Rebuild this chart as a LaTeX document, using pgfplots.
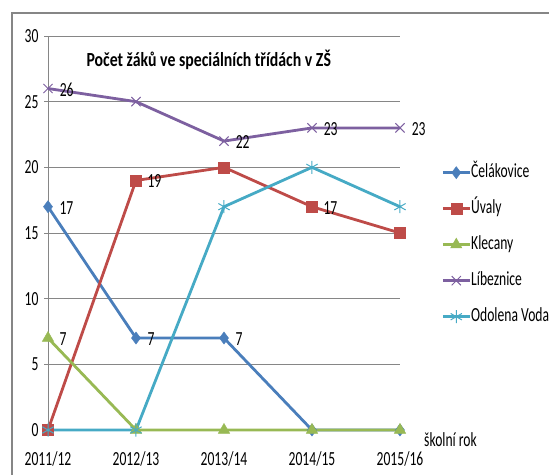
\documentclass[border=0pt]{standalone}
\usepackage{fontspec}
\setmainfont{Carlito}[FakeStretch=0.68]
\newfontfamily\titlefont{Carlito}[FakeStretch=0.79]
\usepackage{pgfplots}
\pgfplotsset{compat=1.18}
\definecolor{cBlue}{RGB}{74,126,187}
\definecolor{cRed}{RGB}{190,75,72}
\definecolor{cGreen}{RGB}{152,185,84}
\definecolor{cPurple}{RGB}{125,96,160}
\definecolor{cCyan}{RGB}{70,170,197}
\definecolor{cGrid}{RGB}{134,134,134}
\newcommand{\f}{\fontsize{20bp}{22bp}\selectfont}
\begin{document}
\begin{tikzpicture}
\useasboundingbox (0,0) rectangle (549bp,475bp);
\draw[cGrid, line width=1.2bp] (12bp,0) -- (12bp,462bp) -- (549bp,462bp);
\begin{axis}[
  scale only axis, width=352bp, height=394bp,
  at={(48bp,45bp)}, anchor=south west,
  xmin=0, xmax=4, ymin=0, ymax=30,
  clip=false,
  axis x line*=bottom, axis y line*=left,
  axis line style={draw=cGrid, line width=0.8bp, -},
  xtick={0,1,2,3,4},
  xticklabels={2011/12,2012/13,2013/14,2014/15,2015/16},
  xtick style={draw=none},
  ytick={0,5,10,15,20,25,30},
  ytick style={draw=cGrid, line width=0.8bp},
  tick align=outside, major tick length=4bp,
  ymajorgrids, grid style={cGrid, line width=0.8bp},
  /pgf/number format/assume math mode=true,
  ticklabel style={font=\f},
  xticklabel style={yshift=-14bp},
  yticklabel style={xshift=-2bp},
  title={\titlefont\bfseries Počet žáků ve speciálních třídách v ZŠ},
  title style={font=\f, at={(rel axis cs:0,1)}, anchor=west, xshift=35bp, yshift=-30bp},
  point meta=explicit symbolic,
  nodes near coords,
  every node near coord/.append style={anchor=west, xshift=8bp, yshift=-1bp, font=\f, text=black},
  every axis plot/.append style={line width=2.8bp},
  legend image code/.code={\draw[mark repeat=2,mark phase=2,#1] plot coordinates {(0bp,0bp) (13.5bp,0bp) (27bp,0bp)};},
  legend style={at={(rel axis cs:1.117,0.6726)}, anchor=north west, draw=none, fill=none,
    inner sep=0pt, font=\f, row sep=21bp,
    nodes={inner sep=0pt, text height=12bp, text depth=3bp}},
  legend cell align=left,
]
\addplot[cBlue, mark=diamond*, mark size=6bp, mark options={line width=0.5bp, fill=cBlue}]
  coordinates {(0,17) [17] (1,7) [7] (2,7) [7] (3,0) [] (4,0) []};
\addlegendentry{Čelákovice}
\addplot[cRed, mark=square*, mark size=5.5bp, mark options={line width=0.5bp, fill=cRed}]
  coordinates {(0,0) [] (1,19) [19] (2,20) [] (3,17) [17] (4,15) []};
\addlegendentry{Úvaly}
\addplot[cGreen, mark=triangle*, mark size=6.5bp, mark options={line width=0.5bp, fill=cGreen}]
  coordinates {(0,7) [7] (1,0) [] (2,0) [] (3,0) [] (4,0) []};
\addlegendentry{Klecany}
\addplot[cPurple, mark=x, mark size=6.5bp, mark options={line width=1bp}]
  coordinates {(0,26) [26] (1,25) [] (2,22) [22] (3,23) [23] (4,23) [23]};
\addlegendentry{Líbeznice}
\addplot[cCyan, mark=asterisk, mark size=6.5bp, mark options={line width=1bp}]
  coordinates {(0,0) [] (1,0) [] (2,17) [] (3,20) [] (4,17) []};
\addlegendentry{Odolena Voda}
\node[anchor=west, font=\f, inner sep=0pt] at (rel axis cs:1,0) [xshift=24bp, yshift=-10bp] {školní rok};
\end{axis}
\end{tikzpicture}
\end{document}
